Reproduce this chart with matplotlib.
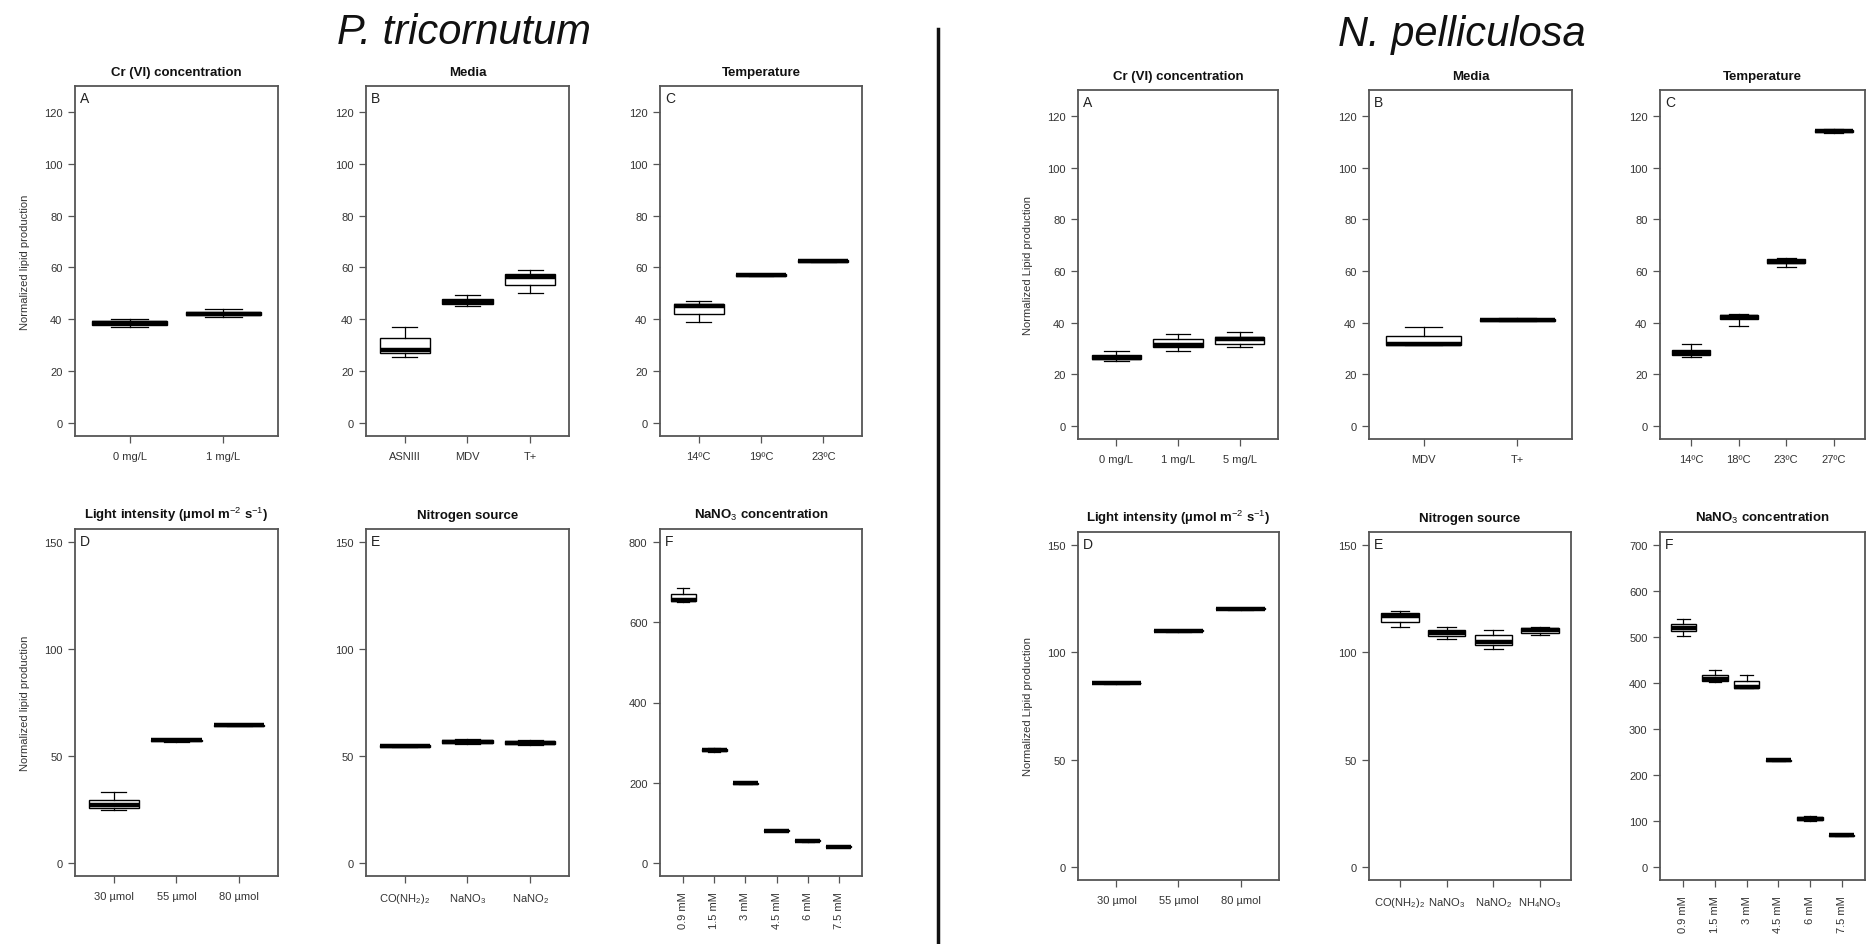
import matplotlib
matplotlib.use('Agg')
import matplotlib.pyplot as plt
from matplotlib.lines import Line2D

plt.rcParams['font.family'] = ['Liberation Sans', 'DejaVu Sans']
plt.rcParams['mathtext.fontset'] = 'custom'
plt.rcParams['mathtext.rm'] = 'Liberation Sans'
plt.rcParams['mathtext.it'] = 'Liberation Sans:italic'
plt.rcParams['mathtext.bf'] = 'Liberation Sans:bold'

# ---------------- P. tricornutum ----------------
pt_cr_labels = ['0 mg/L', '1 mg/L']
pt_cr_lo = [37.0, 41.0]
pt_cr_q1 = [38.0, 41.5]
pt_cr_med = [38.7, 42.0]
pt_cr_q3 = [39.3, 43.0]
pt_cr_hi = [40.0, 44.0]

pt_media_labels = ['ASNIII', 'MDV', 'T+']
pt_media_lo = [25.5, 45.0, 50.3]
pt_media_q1 = [27.0, 46.0, 53.1]
pt_media_med = [28.3, 46.8, 56.3]
pt_media_q3 = [32.8, 47.8, 57.4]
pt_media_hi = [37.0, 49.5, 59.0]

pt_temp_labels = ['14ºC', '19ºC', '23ºC']
pt_temp_lo = [39.0, 56.8, 62.0]
pt_temp_q1 = [42.0, 56.9, 62.3]
pt_temp_med = [45.2, 57.1, 62.6]
pt_temp_q3 = [46.0, 57.3, 62.9]
pt_temp_hi = [47.0, 57.5, 63.0]

pt_light_labels = ['30 µmol', '55 µmol', '80 µmol']
pt_light_lo = [24.7, 56.5, 64.0]
pt_light_q1 = [25.9, 56.9, 64.2]
pt_light_med = [27.0, 57.4, 64.4]
pt_light_q3 = [29.5, 57.7, 64.6]
pt_light_hi = [33.0, 58.0, 64.8]

pt_nitro_labels = ['CO(NH$_2$)$_2$', 'NaNO$_3$', 'NaNO$_2$']
pt_nitro_lo = [54.0, 55.5, 55.0]
pt_nitro_q1 = [54.3, 56.0, 55.6]
pt_nitro_med = [54.7, 56.7, 56.2]
pt_nitro_q3 = [55.0, 57.3, 56.8]
pt_nitro_hi = [55.3, 57.8, 57.3]

pt_nano3_labels = ['0.9 mM', '1.5 mM', '3 mM', '4.5 mM', '6 mM', '7.5 mM']
pt_nano3_lo = [650, 277, 197, 79, 52, 39]
pt_nano3_q1 = [652, 280, 198, 80, 54, 40]
pt_nano3_med = [655, 282, 199, 80.6, 55.5, 40.6]
pt_nano3_q3 = [670, 285, 200, 81.5, 57, 41.5]
pt_nano3_hi = [685, 287, 201, 82, 58, 42]

# ---------------- N. pelliculosa ----------------
np_cr_labels = ['0 mg/L', '1 mg/L', '5 mg/L']
np_cr_lo = [25.3, 29.2, 30.5]
np_cr_q1 = [25.9, 30.5, 31.8]
np_cr_med = [26.3, 31.4, 33.5]
np_cr_q3 = [27.4, 33.7, 34.4]
np_cr_hi = [29.2, 35.7, 36.3]

np_media_labels = ['MDV', 'T+']
np_media_lo = [31.3, 40.5]
np_media_q1 = [31.3, 40.8]
np_media_med = [31.6, 41.2]
np_media_q3 = [34.8, 41.5]
np_media_hi = [38.3, 41.8]

np_temp_labels = ['14ºC', '18ºC', '23ºC', '27ºC']
np_temp_lo = [26.9, 38.9, 61.4, 113.5]
np_temp_q1 = [27.6, 41.5, 62.9, 113.8]
np_temp_med = [28.2, 42.2, 63.6, 114.2]
np_temp_q3 = [29.5, 42.8, 64.6, 114.6]
np_temp_hi = [31.8, 43.2, 64.9, 115.0]

np_light_labels = ['30 µmol', '55 µmol', '80 µmol']
np_light_lo = [85.3, 109.6, 119.9]
np_light_q1 = [85.5, 109.8, 120.1]
np_light_med = [85.7, 110.0, 120.3]
np_light_q3 = [85.9, 110.2, 120.5]
np_light_hi = [86.1, 110.4, 120.7]

np_nitro_labels = ['CO(NH$_2$)$_2$', 'NaNO$_3$', 'NaNO$_2$', 'NH$_4$NO$_3$']
np_nitro_lo = [111.7, 106.3, 101.7, 108.2]
np_nitro_q1 = [114.3, 107.4, 103.5, 108.9]
np_nitro_med = [116.7, 108.9, 104.8, 110.2]
np_nitro_q3 = [118.2, 110.5, 108.2, 111.3]
np_nitro_hi = [119.0, 111.7, 110.5, 111.7]

np_nano3_labels = ['0.9 mM', '1.5 mM', '3 mM', '4.5 mM', '6 mM', '7.5 mM']
np_nano3_lo = [502, 403, 390, 231, 100, 68]
np_nano3_q1 = [513, 405, 390, 231.5, 101.6, 68.5]
np_nano3_med = [520, 408, 392, 232, 105, 69]
np_nano3_q3 = [529, 418, 405, 232.5, 108.8, 69.5]
np_nano3_hi = [538, 428, 417, 233, 112, 70]

W, H = 1874, 945
fig = plt.figure(figsize=(W / 100, H / 100), dpi=100)
fig.patch.set_facecolor('white')

TXT = '#333333'
SPINE = '#555555'


def panel(px, labels, lo, q1, med, q3, hi, ylim, yticks, title, letter,
          ylabel=None, rot=0):
    l, t, r, b = px
    ax = fig.add_axes([l / W, 1 - b / H, (r - l) / W, (b - t) / H])
    n = len(labels)
    stats = []
    for i in range(n):
        stats.append(dict(whislo=lo[i], q1=q1[i], med=med[i], q3=q3[i],
                          whishi=hi[i], label=labels[i]))
    pos = list(range(1, n + 1))
    ax.bxp(stats, positions=pos, widths=0.8, showfliers=False,
           patch_artist=True,
           boxprops=dict(facecolor='white', edgecolor='black', linewidth=1.0),
           medianprops=dict(color='black', linewidth=3.2, solid_capstyle='butt'),
           whiskerprops=dict(color='black', linewidth=0.9),
           capprops=dict(color='black', linewidth=0.9))
    ext = 0.04 * n
    ax.set_xlim(0.5 - ext, n + 0.5 + ext)
    rng = ylim[1] - ylim[0]
    ax.set_ylim(ylim[0] - 0.04 * rng, ylim[1] + 0.04 * rng)
    ax.set_yticks(yticks)
    ax.set_yticklabels([str(v) for v in yticks])
    ax.set_xticks(pos)
    if rot:
        ax.set_xticklabels(labels, rotation=90, va='top', ha='center')
    else:
        ax.set_xticklabels(labels)
    ax.tick_params(axis='both', direction='out', length=5, width=0.9,
                   color=SPINE, labelsize=8, labelcolor=TXT)
    ax.tick_params(axis='x', pad=6)
    ax.tick_params(axis='y', pad=4)
    for s in ax.spines.values():
        s.set_color(SPINE)
        s.set_linewidth(1.3)
    ax.set_title(title, fontsize=9.5, fontweight='bold', pad=8, color='#111111')
    ax.text(0.025, 0.985, letter, transform=ax.transAxes, ha='left', va='top',
            fontsize=10, color='#222222')
    if ylabel:
        ax.set_ylabel(ylabel, fontsize=8, color=TXT, labelpad=10)
    return ax


yt120 = [0, 20, 40, 60, 80, 100, 120]
yt150 = [0, 50, 100, 150]

# left half
panel((75, 87, 278, 437), pt_cr_labels, pt_cr_lo, pt_cr_q1, pt_cr_med, pt_cr_q3,
      pt_cr_hi, (0, 125), yt120, 'Cr (VI) concentration', 'A',
      ylabel='Normalized lipid production')
panel((366, 87, 569, 437), pt_media_labels, pt_media_lo, pt_media_q1,
      pt_media_med, pt_media_q3, pt_media_hi, (0, 125), yt120, 'Media', 'B')
panel((660, 87, 862, 437), pt_temp_labels, pt_temp_lo, pt_temp_q1, pt_temp_med,
      pt_temp_q3, pt_temp_hi, (0, 125), yt120, 'Temperature', 'C')
panel((75, 530, 278, 877), pt_light_labels, pt_light_lo, pt_light_q1,
      pt_light_med, pt_light_q3, pt_light_hi, (0, 150), yt150,
      'Light intensity (µmol m$^{-2}$ s$^{-1}$)', 'D',
      ylabel='Normalized lipid production')
panel((366, 530, 569, 877), pt_nitro_labels, pt_nitro_lo, pt_nitro_q1,
      pt_nitro_med, pt_nitro_q3, pt_nitro_hi, (0, 150), yt150,
      'Nitrogen source', 'E')
panel((660, 530, 862, 877), pt_nano3_labels, pt_nano3_lo, pt_nano3_q1,
      pt_nano3_med, pt_nano3_q3, pt_nano3_hi, (0, 800), [0, 200, 400, 600, 800],
      'NaNO$_3$ concentration', 'F', rot=90)

# right half
panel((1078, 91, 1278, 440), np_cr_labels, np_cr_lo, np_cr_q1, np_cr_med,
      np_cr_q3, np_cr_hi, (0, 125), yt120, 'Cr (VI) concentration', 'A',
      ylabel='Normalized Lipid production')
panel((1369, 91, 1572, 440), np_media_labels, np_media_lo, np_media_q1,
      np_media_med, np_media_q3, np_media_hi, (0, 125), yt120, 'Media', 'B')
panel((1660, 91, 1865, 440), np_temp_labels, np_temp_lo, np_temp_q1,
      np_temp_med, np_temp_q3, np_temp_hi, (0, 125), yt120, 'Temperature', 'C')
panel((1078, 533, 1279, 881), np_light_labels, np_light_lo, np_light_q1,
      np_light_med, np_light_q3, np_light_hi, (0, 150), yt150,
      'Light intensity (µmol m$^{-2}$ s$^{-1}$)', 'D',
      ylabel='Normalized Lipid production')
panel((1369, 533, 1571, 881), np_nitro_labels, np_nitro_lo, np_nitro_q1,
      np_nitro_med, np_nitro_q3, np_nitro_hi, (0, 150), yt150,
      'Nitrogen source', 'E')
panel((1660, 533, 1865, 881), np_nano3_labels, np_nano3_lo, np_nano3_q1,
      np_nano3_med, np_nano3_q3, np_nano3_hi, (0, 700),
      [0, 100, 200, 300, 400, 500, 600, 700], 'NaNO$_3$ concentration', 'F',
      rot=90)

# species headings and divider
fig.text(464 / W, 1 - 33 / H, 'P. tricornutum', ha='center', va='center',
         fontsize=30, style='italic', color='#111111')
fig.text(1462 / W, 1 - 35 / H, 'N. pelliculosa', ha='center', va='center',
         fontsize=30, style='italic', color='#111111')
fig.add_artist(Line2D([938 / W, 938 / W], [1 - 30 / H, 0], color='#111111',
                      linewidth=2.5, transform=fig.transFigure))

fig.savefig('out.png', dpi=100, facecolor='white')
